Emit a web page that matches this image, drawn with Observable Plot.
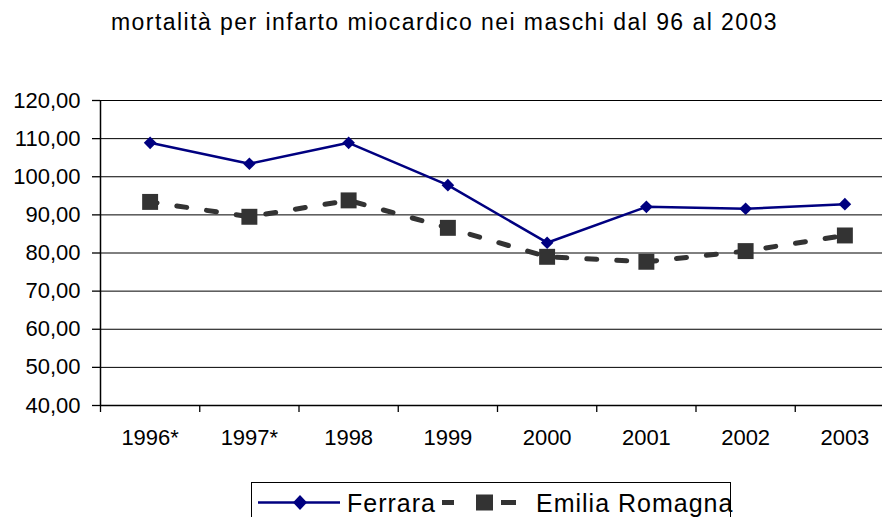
<!DOCTYPE html>
<html>
<head>
<meta charset="utf-8">
<script src="https://cdn.jsdelivr.net/npm/d3@7"></script>
<script src="https://cdn.jsdelivr.net/npm/@observablehq/plot@0.6"></script>
<style>
  html, body { margin: 0; padding: 0; background: #fff; overflow: hidden; }
  #wrap { width: 882px; height: 517px; position: relative; overflow: hidden; font-family: "Liberation Sans", Arial, sans-serif; color: #000; }
  #title { height: 55px; box-sizing: border-box; padding-top: 11px; padding-left: 111px; font-size: 23px; line-height: 23px; letter-spacing: 1.45px; white-space: nowrap; }
  #chart svg { display: block; overflow: hidden; }
  #legend { position: absolute; left: 251px; top: 482px; width: 480px; height: 60px; border: 1px solid #000; box-sizing: border-box; }
</style>
</head>
<body>
<div id="wrap">
  <div id="title">mortalità per infarto miocardico nei maschi dal 96 al 2003</div>
  <div id="chart"></div>
  <div id="legend"></div>
</div>
<script>
const years = ["1996*", "1997*", "1998", "1999", "2000", "2001", "2002", "2003"];
const ferrara = [108.9, 103.4, 108.9, 97.8, 82.7, 92.1, 91.6, 92.8];
const emilia = [93.4, 89.5, 93.8, 86.6, 79.0, 77.7, 80.5, 84.6];
const yTicks = [40, 50, 60, 70, 80, 90, 100, 110, 120];
const seriesNames = ["Ferrara", "Emilia Romagna"];

const navy = "#000080";
const grey = "#333333";

// category positions: index + 0.5 on a linear scale so ticks fall between categories
const fData = years.map((y, i) => ({pos: i + 0.5, v: ferrara[i]}));
const eData = years.map((y, i) => ({pos: i + 0.5, v: emilia[i]}));
const boundaries = d3.range(0, years.length + 1);
const fmt = d => d.toFixed(2).replace(".", ",");

const chart = Plot.plot({
  width: 882,
  height: 425,
  marginLeft: 100,
  marginRight: -12,
  marginTop: 45,
  marginBottom: 75,
  style: {fontFamily: "Liberation Sans, Arial, sans-serif", fontSize: "22px", color: "#000", background: "#fff"},
  x: {domain: [0, years.length], axis: null},
  y: {domain: [40, 120], axis: null},
  marks: [
    Plot.ruleY(yTicks.slice(1), {stroke: "#000", strokeWidth: 1}),
    Plot.axisY(yTicks, {label: null, tickSize: 8, tickPadding: 12, tickFormat: fmt, fontSize: 22, stroke: "#000", strokeWidth: 1.3, style: {letterSpacing: "0.8px"}}),
    Plot.axisX(boundaries, {label: null, tickSize: 7, tickFormat: () => "", stroke: "#000", strokeWidth: 1.3}),
    Plot.axisX(years.map((y, i) => i + 0.5), {label: null, tickSize: 0, tickPadding: 24, tickFormat: d => years[Math.floor(d)], fontSize: 22, style: {letterSpacing: "0.8px"}}),
    Plot.ruleX([0], {stroke: "#000", strokeWidth: 1.5}),
    Plot.ruleY([40], {stroke: "#000", strokeWidth: 1.5}),
    Plot.line(eData, {x: "pos", y: "v", stroke: grey, strokeWidth: 5, strokeDasharray: "10,20", strokeDashoffset: 3}),
    Plot.dot(eData, {x: "pos", y: "v", symbol: "square", r: 9, fill: grey, stroke: "none"}),
    Plot.line(fData, {x: "pos", y: "v", stroke: navy, strokeWidth: 2.5}),
    Plot.dot(fData, {x: "pos", y: "v", symbol: "diamond2", r: 5.7, fill: navy, stroke: "none"})
  ]
});
document.getElementById("chart").appendChild(chart);

// legend
const legend = document.getElementById("legend");
legend.innerHTML = `
<svg width="480" height="40" style="position:absolute;left:0;top:0;overflow:visible">
  <line x1="6" x2="88" y1="19.5" y2="19.5" stroke="${navy}" stroke-width="2.5"/>
  <path d="M48,12 L55,19.5 L48,27 L41,19.5 Z" fill="${navy}"/>
  <text x="95" y="29" font-family="Liberation Sans, Arial, sans-serif" font-size="25" letter-spacing="1" fill="#000">${seriesNames[0]}</text>
  <line x1="190" x2="264" y1="19.5" y2="19.5" stroke="${grey}" stroke-width="5" stroke-dasharray="12,47,15"/>
  <rect x="224" y="11.5" width="17" height="16" fill="${grey}"/>
  <text x="284" y="29" font-family="Liberation Sans, Arial, sans-serif" font-size="25" letter-spacing="1" fill="#000">${seriesNames[1]}</text>
</svg>`;
</script>
</body>
</html>
